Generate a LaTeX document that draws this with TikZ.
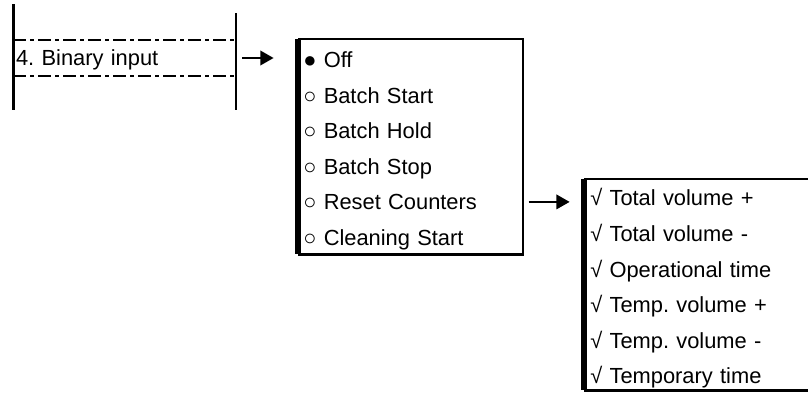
\documentclass[tikz,border=0pt]{standalone}
\usepackage{fontspec}
\setmainfont{Liberation Sans}
\usetikzlibrary{positioning, arrows.meta}
\tikzset{
    rowbox/.style={inner xsep=1.9pt, inner ysep=0pt, text width=163pt, align=left, text height=19.1pt, text depth=7.2pt},
    menubox/.style={draw, line width=1.1pt, inner sep=0pt},
    entry/.style={inner sep=0pt, text width=158pt, align=left, text height=19.1pt, text depth=7.2pt},
    rail/.style={line width=2.6pt},
    thinrail/.style={line width=1.6pt},
    dashdot/.style={line width=1.6pt, dash pattern=on 9.75pt off 3pt on 3pt off 3pt},
    heavy/.style={line width=4.6pt},
    lowedge/.style={line width=2.4pt},
    topedge/.style={line width=1.9pt},
    link/.style={->, line width=1.4pt}
}
\frenchspacing
\begin{document}
\begin{tikzpicture}[x=0.75pt, y=-0.75pt, font=\fontsize{16.4}{20}\selectfont, node distance=0pt, >={Triangle[length=10pt, width=11pt]}]
  \path[use as bounding box, clip] (0,0) rectangle (808,394);
  % menu row
  \node(bin)[rowbox] at (124.75,58) {4. Binary input};
  \draw[rail] (13.5,4) -- (13.5,110);
  \draw[thinrail] (236,13) -- (236,110);
  \draw[dashdot] (bin.north west) -- (bin.north east);
  \draw[dashdot] (bin.south west) -- (bin.south east);
  % first popup
  \node(menuA)[menubox, minimum width=168pt, minimum height=160.5pt] at (411,146.5) {};
  \draw[heavy] (menuA.north west) -- (menuA.south west);
  \draw[lowedge] (menuA.south west) -- (menuA.south east);
  \draw[topedge] (menuA.north west) -- (menuA.north east);
  \node(off)[entry, anchor=west] at (303,59.5) {● Off};
  \node(start)[entry, below=of off] {○ Batch Start};
  \node(hold)[entry, below=of start] {○ Batch Hold};
  \node(stop)[entry, below=of hold] {○ Batch Stop};
  \node(reset)[entry, below=of stop] {○ Reset Counters};
  \node(clean)[entry, below=of reset] {○ Cleaning Start};
  % second popup
  \node(menuB)[menubox, minimum width=191.25pt, minimum height=157.5pt] at (712.5,284.5) {};
  \draw[heavy] (menuB.north west) -- (menuB.south west);
  \draw[lowedge] (menuB.south west) -- (menuB.south east);
  \draw[topedge] (menuB.north west) -- (menuB.north east);
  \node(totplus)[entry, anchor=west] at (590,198) {√ Total volume +};
  \node(totminus)[entry, below=of totplus] {√ Total volume -};
  \node(optime)[entry, below=of totminus] {√ Operational time};
  \node(tmpplus)[entry, below=of optime] {√ Temp. volume +};
  \node(tmpminus)[entry, below=of tmpplus] {√ Temp. volume -};
  \node(tmptime)[entry, below=of tmpminus] {√ Temporary time};
  % arrows
  \draw[link, shorten <=4.5pt, shorten >=18.5pt] (bin.east) -- (bin.east -| menuA.west);
  \draw[link, shorten <=3.75pt, shorten >=11pt] (reset.east -| menuA.east) -- (reset.east -| menuB.west);
\end{tikzpicture}
\end{document}
